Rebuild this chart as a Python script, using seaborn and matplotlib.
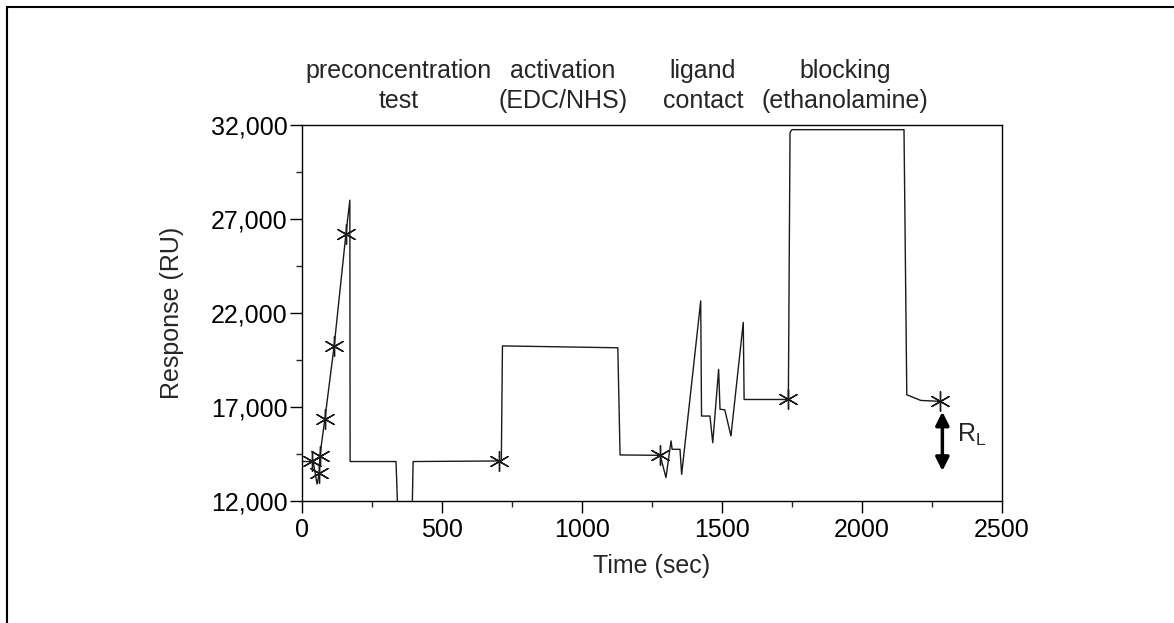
import matplotlib
matplotlib.use("Agg")
import matplotlib.pyplot as plt
from matplotlib.lines import Line2D
from matplotlib.ticker import AutoMinorLocator, FuncFormatter
import seaborn as sns
import pandas as pd

# ---- data ----
time = [0, 30, 40, 54, 62, 64, 82, 115, 157, 171,
        172, 336, 343, 393, 397, 704, 712, 716, 1128, 1136,
        1279, 1300, 1318, 1322, 1350, 1356, 1424, 1427, 1457, 1467,
        1488, 1493, 1510, 1532, 1576, 1579, 1737, 1743, 1750, 2150,
        2160, 2210, 2280]
response = [14100, 14100, 14100, 12900, 13500, 14400, 16380, 20250, 26200, 28000,
            14100, 14100, 11000, 11000, 14100, 14130, 14130, 20250, 20150, 14450,
            14430, 13250, 15200, 14750, 14750, 13420, 22640, 16520, 16520, 15100,
            19000, 16880, 16850, 15460, 21500, 17400, 17400, 31600, 31750, 31750,
            17650, 17350, 17300]

star_time = [37, 62, 64, 82, 115, 157, 704, 1279, 1737, 2280]
star_resp = [14130, 13510, 14400, 16380, 20250, 26190, 14130, 14430, 17400, 17320]

phase_line1 = ["preconcentration", "activation", "ligand", "blocking"]
phase_line2 = ["test", "(EDC/NHS)", "contact", "(ethanolamine)"]
phase_x = [346, 932, 1432, 1939]

x_ticks = [0, 500, 1000, 1500, 2000, 2500]
y_ticks = [12000, 17000, 22000, 27000, 32000]

rl_top, rl_bottom, rl_x = 16750, 13600, 2287

# ---- style ----
sns.set_style("ticks")
plt.rcParams['font.family'] = ['Liberation Sans', 'DejaVu Sans']
plt.rcParams['mathtext.fontset'] = 'custom'
plt.rcParams['mathtext.rm'] = 'Liberation Sans'
plt.rcParams['mathtext.it'] = 'Liberation Sans'

fig = plt.figure(figsize=(11.74, 6.23), dpi=100)
ax = fig.add_axes([0.2572, 0.1958, 0.5963, 0.6036])

df = pd.DataFrame({"t": time, "r": response})
sns.lineplot(data=df, x="t", y="r", sort=False, estimator=None,
             color="#1a1a1a", linewidth=1.0, ax=ax)
sns.scatterplot(x=star_time, y=star_resp, marker=(6, 2, 0), s=200,
                color="#1a1a1a", linewidth=1.0, ax=ax, zorder=3)

ax.set_xlim(x_ticks[0], x_ticks[-1])
ax.set_ylim(y_ticks[0], y_ticks[-1])
ax.set_xticks(x_ticks)
ax.set_yticks(y_ticks)
ax.xaxis.set_minor_locator(AutoMinorLocator(2))
ax.yaxis.set_minor_locator(AutoMinorLocator(2))
ax.yaxis.set_major_formatter(FuncFormatter(lambda v, p: f"{int(v):,}"))
ax.tick_params(axis="both", which="major", direction="out", length=8.5, width=1.0,
               labelsize=18, colors="black")
ax.tick_params(axis="x", which="major", pad=3.5)
ax.tick_params(axis="y", which="major", pad=2)
ax.tick_params(axis="both", which="minor", direction="out", length=4.5, width=1.0)
for s in ax.spines.values():
    s.set_linewidth(1.0)
    s.set_color("black")

ax.set_xlabel("Time (sec)", fontsize=18)
ax.set_ylabel("Response (RU)", fontsize=18)
ax.xaxis.set_label_coords(0.5, -0.140)
ax.yaxis.set_label_coords(-0.168, 0.5)

tr = ax.get_xaxis_transform()
for x, l1, l2 in zip(phase_x, phase_line1, phase_line2):
    ax.text(x, 1.144, l1, transform=tr, ha="center", va="center", fontsize=18,
            clip_on=False)
    ax.text(x, 1.064, l2, transform=tr, ha="center", va="center", fontsize=18,
            clip_on=False)

ax.annotate("", xy=(rl_x, rl_bottom), xytext=(rl_x, rl_top),
            arrowprops=dict(arrowstyle="<|-|>", color="black", lw=2.5,
                            mutation_scale=20, shrinkA=0, shrinkB=0))
ax.text(2339, 15500, r"$\mathrm{R}_{\mathrm{L}}$", ha="left", va="center",
        fontsize=18)

# outer frame (top and left edges)
fig.add_artist(Line2D([7/1174, 1], [1 - 7/623, 1 - 7/623], transform=fig.transFigure,
                      color="black", lw=1.5))
fig.add_artist(Line2D([7/1174, 7/1174], [0, 1 - 7/623], transform=fig.transFigure,
                      color="black", lw=1.5))

fig.savefig("out.png", dpi=100)
